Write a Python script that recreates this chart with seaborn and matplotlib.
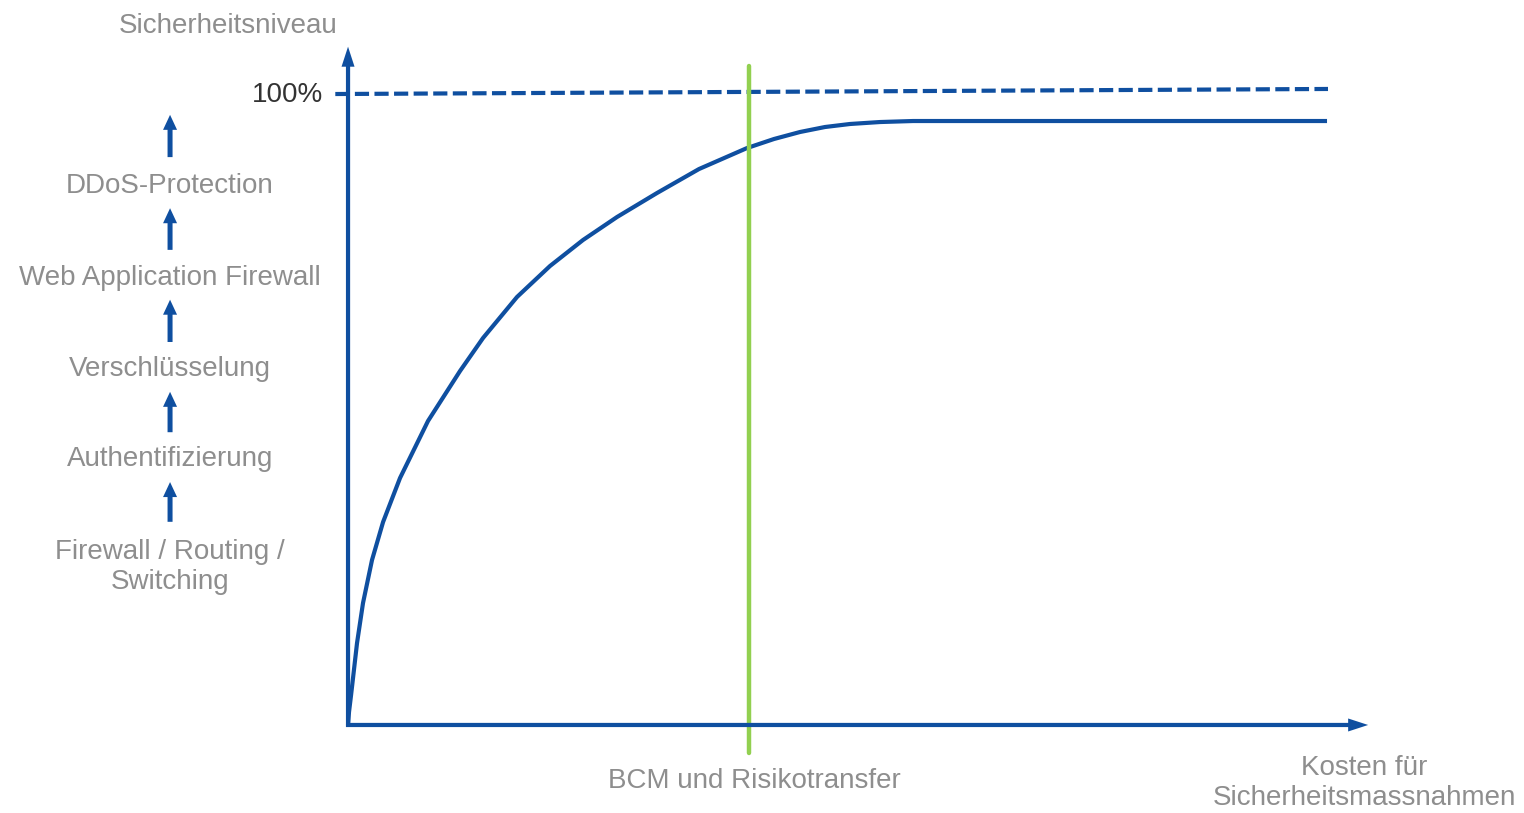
import numpy as np
import pandas as pd
import matplotlib
matplotlib.use("Agg")
import matplotlib.pyplot as plt
import seaborn as sns

# curve: cost (0..100) vs security level (%)
curve_x = [0, 0.10, 0.31, 0.51, 0.92, 1.53, 2.45, 3.58, 5.31, 8.17, 11.44, 13.79,
           17.26, 20.63, 24.00, 27.48, 31.56, 35.85, 40.76, 43.51, 46.17, 48.72,
           51.28, 54.34, 57.71, 100]
curve_y = [0, 2.06, 4.75, 7.45, 13.00, 19.33, 26.15, 32.17, 39.14, 48.18, 56.10, 61.33,
           67.83, 72.74, 76.86, 80.51, 84.31, 88.11, 91.44, 92.87, 93.98, 94.77,
           95.25, 95.56, 95.72, 95.72]

# 100% target line (slightly rising in the original)
target_x = [-1.3, 100.1]
target_y = [100, 100.8]

bcm_x = 41.0
bcm_label = "BCM und Risikotransfer"

steps = ["Firewall / Routing /\nSwitching", "Authentifizierung", "Verschlüsselung",
         "Web Application Firewall", "DDoS-Protection"]
step_y = [25.1, 42.2, 56.4, 70.9, 85.4]
arrow_start = [32.2, 46.4, 60.7, 75.3, 90.0]
arrow_end = [38.5, 52.8, 67.4, 81.9, 96.7]

y_title = "Sicherheitsniveau"
x_title = "Kosten für\nSicherheitsmassnahmen"

blue = "#0F4FA0"
green = "#92D050"
grey = "#8E8E8E"

sns.set_theme(style="white")
plt.rcParams["font.family"] = ["Liberation Sans", "DejaVu Sans"]

fig = plt.figure(figsize=(15.24, 8.13), dpi=100)
ax = fig.add_axes([0, 0, 1, 1])
ax.set_xlim(-35.55, 120.12)
ax.set_ylim(-13.95, 114.9)
ax.axis("off")

df = pd.DataFrame({"x": curve_x, "y": curve_y})
sns.lineplot(data=df, x="x", y="y", ax=ax, color=blue, lw=3, sort=False,
             solid_capstyle="butt", solid_joinstyle="round", zorder=3)

ax.plot(target_x, target_y, color=blue, lw=3, ls=(0, (3.4, 1.3)), zorder=3)

# green BCM line
ax.plot([bcm_x, bcm_x], [-4.4, 104.4], color=green, lw=3.2, zorder=4)

# axes with arrow heads (mutation_scale 7.2pt ~ 10px)
akw = dict(arrowstyle="simple,tail_width=0.42,head_width=1.3,head_length=2.0",
           fc=blue, ec="none", lw=0, mutation_scale=7.2, shrinkA=0, shrinkB=0)
ax.annotate("", xy=(0, 107.5), xytext=(0, -0.3), arrowprops=akw, zorder=5)
ax.annotate("", xy=(104.2, 0), xytext=(-0.2, 0), arrowprops=akw, zorder=5)

ax.text(-12.26, 110.8, y_title, ha="center", va="center", fontsize=20, color=grey)
ax.text(-2.55, 99.9, "100%", ha="right", va="center", fontsize=20, color="#333333")

skw = dict(arrowstyle="simple,tail_width=0.5,head_width=1.4,head_length=1.5",
           fc=blue, ec="none", lw=0, mutation_scale=7.2, shrinkA=0, shrinkB=0)
for lab, yy, a0, a1 in zip(steps, step_y, arrow_start, arrow_end):
    ax.text(-18.18, yy, lab, ha="center", va="center", fontsize=20, color=grey,
            linespacing=1.2)
    ax.annotate("", xy=(-18.18, a1), xytext=(-18.18, a0), arrowprops=skw)

ax.text(41.5, -8.9, bcm_label, ha="center", va="center", fontsize=20, color=grey)
ax.text(103.8, -9.2, x_title, ha="center", va="center", fontsize=20, color=grey,
        linespacing=1.2)

fig.savefig("out.png", dpi=100)
